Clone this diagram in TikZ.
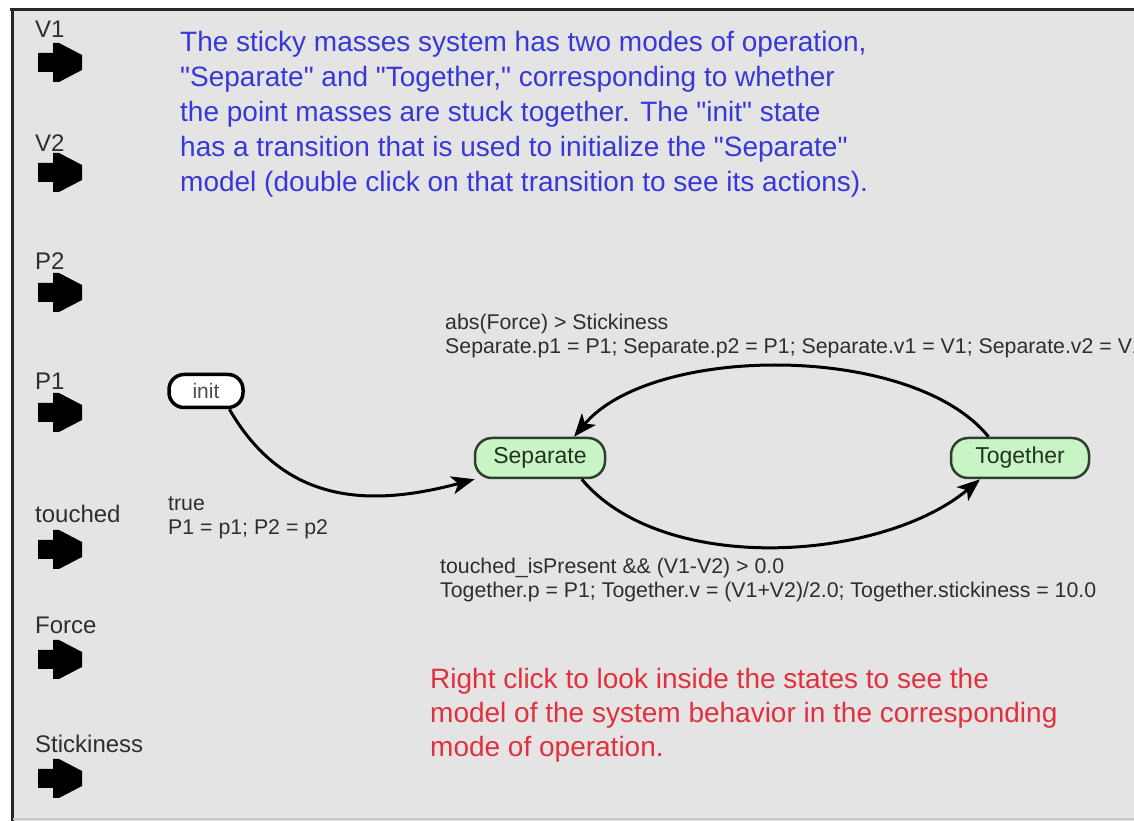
\documentclass[tikz,border=0pt]{standalone}
\usepackage{fontspec}
\setmainfont{Liberation Sans}[Ligatures=TeXOff]
\usetikzlibrary{arrows.meta}
\definecolor{panel}{HTML}{E4E4E4}
\definecolor{notebl}{HTML}{3838D8}
\definecolor{notered}{HTML}{E2303E}
\definecolor{ink}{HTML}{2E2E2E}
\definecolor{statefill}{HTML}{C9F4C6}
\definecolor{stateedge}{HTML}{2F3F2F}
\definecolor{statetext}{HTML}{203420}

\begin{document}
\begin{tikzpicture}[x=1pt,y=1pt,
  state/.style={draw=stateedge, line width=2.5pt, fill=statefill, rounded corners=17pt,
    minimum height=40pt, inner sep=0pt, text=statetext, font=\fontsize{23}{26}\selectfont},
  initstate/.style={draw=black, line width=3.5pt, fill=white, rounded corners=15pt,
    minimum width=74pt, minimum height=33pt, inner sep=0pt, text=ink!85,
    font=\fontsize{21}{24}\selectfont},
  trans/.style={line width=3pt, -{Stealth[length=23pt,width=18pt,inset=6pt]}},
  portlabel/.style={anchor=base west, inner sep=0pt, text=ink, font=\fontsize{24}{26}\selectfont},
  guard/.style={anchor=north west, inner sep=0pt, align=left, text=ink,
    font=\fontsize{21.3}{24}\selectfont},
  note/.style={anchor=north west, inner sep=0pt, align=left, font=\fontsize{28}{35}\selectfont},
  portarrow/.pic={\fill[black] (0,9) -- (15,9) -- (15,19) -- (21,19) -- (44,7) -- (44,-8)
    -- (21,-20) -- (15,-20) -- (15,-10) -- (0,-10) -- cycle;}
]
\useasboundingbox (0,0) rectangle (1134,821);
\clip (0,0) rectangle (1134,821);

% window background and frame
\fill[white] (0,0) rectangle (1134,821);
\fill[panel] (12,0) rectangle (1134,811);
\draw[black!85, line width=3pt] (10,811) -- (1134,811);
\draw[black!85, line width=3pt] (12,812) -- (12,0);
\draw[black!22, line width=2pt] (13,2) -- (1134,2);

% input ports
\foreach \ay/\ly/\name in {759/783/V1, 649/669/V2, 529/551/P2, 409/431/P1,
                           272/298/touched, 162/187/Force, 43/68/Stickiness}{
  \node[portlabel] (lbl-\name) at (35,\ly) {\name};
  \pic at (38,\ay) {portarrow};
}

% explanatory notes
\node[note, text=notebl] (intro) at (180,790) {The sticky masses system has two modes of operation,\\
"Separate" and "Together," corresponding to whether\\
the point masses are stuck together. The "init" state\\
has a transition that is used to initialize the "Separate"\\
model (double click on that transition to see its actions).};

\node[note, text=notered, font=\fontsize{28}{34}\selectfont] (hint) at (430,153)
  {Right click to look inside the states to see the\\
model of the system behavior in the corresponding\\
mode of operation.};

% states
\node[initstate] (init) at (206,430) {init};
\node[state, minimum width=130pt] (sep) at (540,363) {Separate};
\node[state, minimum width=138pt] (tog) at (1020,363) {Together};

% transitions
\draw[trans] (init.-38) to[out=-60, in=195, looseness=1.1] (sep.198);
\draw[trans] (tog.146) to[out=129, in=50, looseness=0.75] (sep.32);
\draw[trans] (sep.-27) to[out=-50, in=220, looseness=0.82] (tog.208);

% transition guards and actions
\node[guard] (g-init) at (168,324) {true\\P1 = p1; P2 = p2};
\node[guard] (g-split) at (445,507) {abs(Force) > Stickiness\\
Separate.p1 = P1; Separate.p2 = P1; Separate.v1 = V1; Separate.v2 = V1};
\node[guard] (g-stick) at (440,263) {touched\_isPresent \&\& (V1-V2) > 0.0\\
Together.p = P1; Together.v = (V1+V2)/2.0; Together.stickiness = 10.0};
\end{tikzpicture}
\end{document}
